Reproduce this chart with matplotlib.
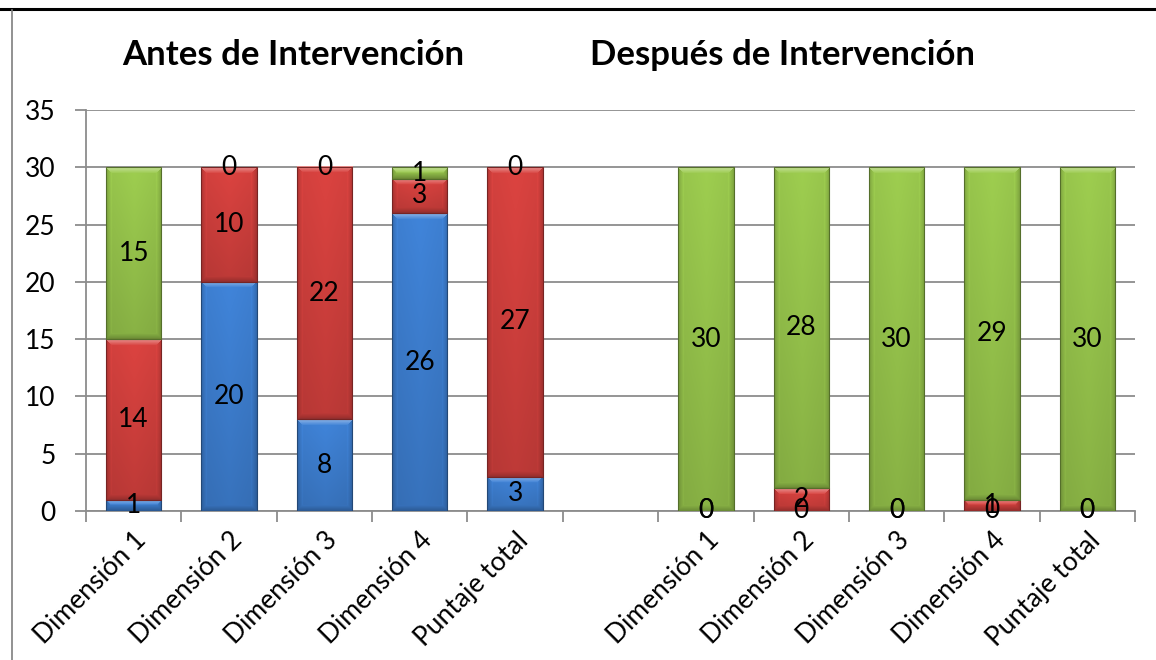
import numpy as np
import matplotlib.pyplot as plt
from matplotlib.colors import to_rgb
from matplotlib.lines import Line2D

plt.rcParams['font.family'] = ['Lato', 'DejaVu Sans']

categorias = ["Dimensión 1", "Dimensión 2", "Dimensión 3", "Dimensión 4", "Puntaje total"]

# antes de la intervención
antes_azul = [1, 20, 8, 26, 3]
antes_rojo = [14, 10, 22, 3, 27]
antes_verde = [15, 0, 0, 1, 0]

# después de la intervención
despues_azul = [0, 0, 0, 0, 0]
despues_rojo = [0, 2, 0, 1, 0]
despues_verde = [30, 28, 30, 29, 30]

azul = '#3F82D6'
rojo = '#D8423F'
verde = '#9BCA4E'

fig = plt.figure(figsize=(11.56, 6.6), dpi=100)
ax = fig.add_axes([86/1156, 1-511/660, (1135-86)/1156, 401/660])
ax.set_xlim(-0.5, 10.5)
ax.set_ylim(0, 35)


def bisel(color, nx, ny, b=5):
    # bloque con bisel: arriba claro, lados y abajo oscuros, degradado vertical
    c = np.array(to_rgb(color))
    img = np.empty((ny, nx, 3))
    for j in range(ny):
        base = c * (1.02 - 0.14 * j / max(ny - 1, 1))
        for i in range(nx):
            dl, dr = i, nx - 1 - i
            dt, db = j, ny - 1 - j
            dh = min(dl, dr)
            if dt < b and dt <= dh and dt <= db:
                k = 0.4 * (1 - dt / b)
                col = c + (1 - c) * k
            elif db < b and db <= dh:
                col = base * (0.8 + 0.035 * db)
            elif dh < b:
                col = base * (0.82 + 0.035 * dh)
            else:
                col = base * (1.0 - 0.05 * abs(i - nx / 2) / (nx / 2))
            img[j, i] = col
    return np.clip(img, 0, 1)


ancho = 0.58
fig.canvas.draw()
px_unidad = ax.transData.transform((0, 1))[1] - ax.transData.transform((0, 0))[1]
px_ancho = ax.transData.transform((ancho, 0))[0] - ax.transData.transform((0, 0))[0]


def segmento(x, base, alto, color):
    if alto <= 0:
        return
    nx = int(round(px_ancho))
    ny = max(int(round(alto * px_unidad)), 2)
    b = min(6, ny // 2)
    ax.imshow(bisel(color, nx, ny, b), extent=(x - ancho/2, x + ancho/2, base, base + alto),
              aspect='auto', interpolation='bilinear', zorder=3)
    ax.add_patch(plt.Rectangle((x - ancho/2, base), ancho, alto, fill=False,
                               edgecolor=np.array(to_rgb(color)) * 0.55, lw=0.8, zorder=4))


def grupo(x0, a, r, v):
    for i in range(len(categorias)):
        x = x0 + i
        segmento(x, 0, a[i], azul)
        segmento(x, a[i], r[i], rojo)
        segmento(x, a[i] + r[i], v[i], verde)
        for y, val in [(a[i] / 2, a[i]), (a[i] + r[i] / 2, r[i]), (a[i] + r[i] + v[i] / 2, v[i])]:
            ax.text(x, y, str(val), ha='center', va='center', fontsize=19, zorder=5)


grupo(0, antes_azul, antes_rojo, antes_verde)
grupo(6, despues_azul, despues_rojo, despues_verde)

ax.set_xlim(-0.5, 10.5)
ax.set_ylim(0, 35)

gris = '#8C8C8C'
ax.set_yticks(range(0, 36, 5))
ax.yaxis.grid(True, color=gris, lw=1.3)
ax.set_axisbelow(True)
ax.tick_params(axis='y', length=8, width=1.3, color=gris, labelsize=19, pad=14)

ax.set_xticks(np.arange(-0.5, 11, 1))
ax.set_xticklabels([])
ax.tick_params(axis='x', which='major', length=8, width=1.3, color=gris)
posiciones = list(range(5)) + list(range(6, 11))
ax.set_xticks(posiciones, minor=True)
ax.set_xticklabels(categorias + categorias, minor=True, rotation=45, ha='right',
                   rotation_mode='anchor', fontsize=19)
ax.tick_params(axis='x', which='minor', length=0, pad=12)

for s in ['top', 'right']:
    ax.spines[s].set_visible(False)
for s in ['left', 'bottom']:
    ax.spines[s].set_color(gris)
    ax.spines[s].set_linewidth(1.3)

fig.text(293/1156, 1-55/660, "Antes de Intervención", ha='center', va='center',
         fontsize=25, fontweight='bold')
fig.text(782/1156, 1-55/660, "Después de Intervención", ha='center', va='center',
         fontsize=25, fontweight='bold')

# marco de la celda
fig.add_artist(Line2D([0, 1], [1-9/660, 1-9/660], color='black', lw=2.2))
fig.add_artist(Line2D([12/1156, 12/1156], [0, 1-10/660], color='#7F7F7F', lw=1.2))

fig.savefig('out.png', dpi=100)
